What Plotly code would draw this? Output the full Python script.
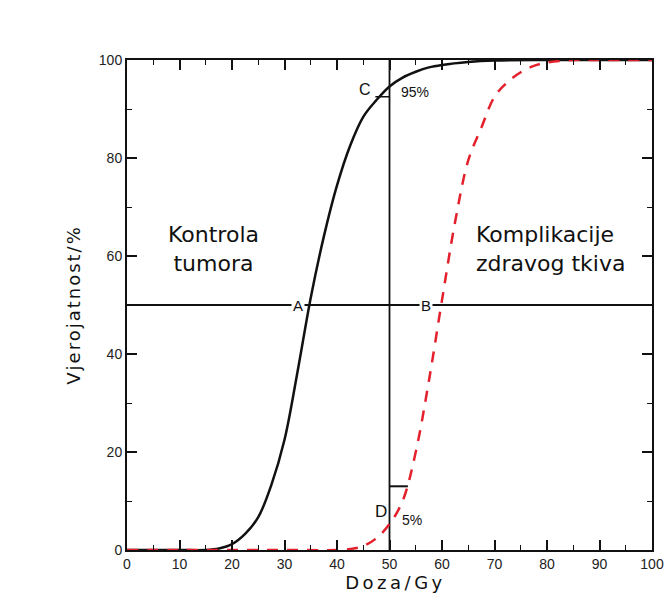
import plotly.graph_objects as go

# Tumour control probability (black solid)
dose_tumor = [0, 5, 10, 15, 17.5, 20, 22.5, 25, 27.5, 30, 32.5, 35, 37.5, 40, 42.5, 45, 47.5, 50, 52.5, 55, 57.5, 60, 65, 70, 80, 90, 100]
prob_tumor = [0, 0, 0, 0, 0.3, 1.2, 3.3, 6.7, 13.3, 22.5, 36.5, 51.5, 64, 74.4, 82.5, 88.4, 91.8, 94.6, 96.4, 97.6, 98.5, 99, 99.6, 99.9, 100, 100, 100]

# Normal tissue complication probability (red dashed)
dose_compl = [0, 10, 20, 30, 40, 42.5, 45, 47.5, 50, 52.5, 55, 57.5, 60, 62.5, 65, 67.5, 70, 72.5, 75, 77.5, 80, 85, 90, 100]
prob_compl = [0, 0, 0, 0, 0, 0.2, 0.8, 2.4, 5.3, 10, 20, 34.5, 51, 67, 79.5, 86.2, 92.5, 95.5, 97.5, 98.8, 99.5, 100, 100, 100]

x_ticks = [0, 10, 20, 30, 40, 50, 60, 70, 80, 90, 100]
y_ticks = [0, 20, 40, 60, 80, 100]

ref_dose = 50
ref_prob = 50

fig = go.Figure()
fig.add_trace(go.Scatter(x=dose_tumor, y=prob_tumor, mode="lines",
                         line=dict(color="#111111", width=2.5, shape="spline", smoothing=1.0),
                         showlegend=False))
fig.add_trace(go.Scatter(x=dose_compl, y=prob_compl, mode="lines",
                         line=dict(color="#e3202b", width=2.5, dash="11px,9px", shape="spline", smoothing=1.0),
                         showlegend=False))

# reference lines
fig.add_shape(type="line", x0=0, x1=100, y0=ref_prob, y1=ref_prob, line=dict(color="#111111", width=1.8), layer="below")
fig.add_shape(type="line", x0=ref_dose, x1=ref_dose, y0=0, y1=100, line=dict(color="#111111", width=1.8), layer="below")
# small markers near C and D
fig.add_shape(type="line", x0=50, x1=53.5, y0=13, y1=13, line=dict(color="#111111", width=2))
fig.add_shape(type="line", x0=47.3, x1=50, y0=92.5, y1=92.5, line=dict(color="#111111", width=1.5))

lab_font = dict(family="Liberation Sans, Arial", size=15, color="#111111")
big_font = dict(family="DejaVu Sans, Verdana", size=22, color="#111111")
anns = [
    dict(x=32.6, y=50, text="A", font=lab_font, bgcolor="white"),
    dict(x=57.0, y=50, text="B", font=lab_font, bgcolor="white"),
    dict(x=45.3, y=94, text="C", font=dict(family="Liberation Sans, Arial", size=16, color="#111111")),
    dict(x=54.8, y=93.4, text="95%", font=dict(family="Liberation Sans, Arial", size=14, color="#111111")),
    dict(x=48.4, y=7.8, text="D", font=dict(family="Liberation Sans, Arial", size=17, color="#111111")),
    dict(x=54.3, y=6.2, text="5%", font=dict(family="Liberation Sans, Arial", size=14, color="#111111")),
    dict(x=16.4, y=61.5, text="Kontrola<br>tumora", font=big_font, align="center"),
    dict(x=80.6, y=61.5, text="Komplikacije<br>zdravog tkiva", font=big_font, align="left"),
]
for a in anns:
    a.update(xref="x", yref="y", showarrow=False)
fig.update_layout(annotations=anns)

tick_font = dict(family="Liberation Sans, Arial", size=14, color="#222222")
fig.update_xaxes(range=[0, 100], tickvals=x_ticks, ticktext=[str(v) for v in x_ticks],
                 ticks="inside", ticklen=10, tickwidth=1.6, tickcolor="#111111",
                 minor=dict(dtick=5, tick0=0, ticks="inside", ticklen=5, tickwidth=1.4, tickcolor="#111111"),
                 showline=True, linewidth=2, linecolor="#111111", mirror="ticks",
                 showgrid=False, zeroline=False, tickfont=tick_font, automargin=False,
                 title=dict(text="Doza/Gy", font=dict(family="DejaVu Sans, Verdana", size=18, color="#111111"), standoff=4))
fig.update_yaxes(range=[0, 100], tickvals=y_ticks, ticktext=[str(v) for v in y_ticks],
                 ticks="inside", ticklen=10, tickwidth=1.6, tickcolor="#111111",
                 minor=dict(dtick=10, tick0=0, ticks="inside", ticklen=5, tickwidth=1.4, tickcolor="#111111"),
                 showline=True, linewidth=2, linecolor="#111111", mirror="ticks",
                 showgrid=False, zeroline=False, tickfont=tick_font, automargin=False,
                 title=dict(text="Vjerojatnost/%", font=dict(family="DejaVu Sans, Verdana", size=18, color="#111111"), standoff=14))

fig.update_layout(width=665, height=606, margin=dict(l=127, r=13, t=60, b=56, autoexpand=False),
                  plot_bgcolor="white", paper_bgcolor="white")

post = """
var st = document.createElement('style');
st.innerHTML = 'html,body{margin:0;padding:0;overflow:hidden;} .xtitle{letter-spacing:3.5px;transform:translateX(6px);} .ytitle{letter-spacing:2px;}';
document.head.appendChild(st);
"""
fig.write_html("out.html", post_script=post, config={"displayModeBar": False})
